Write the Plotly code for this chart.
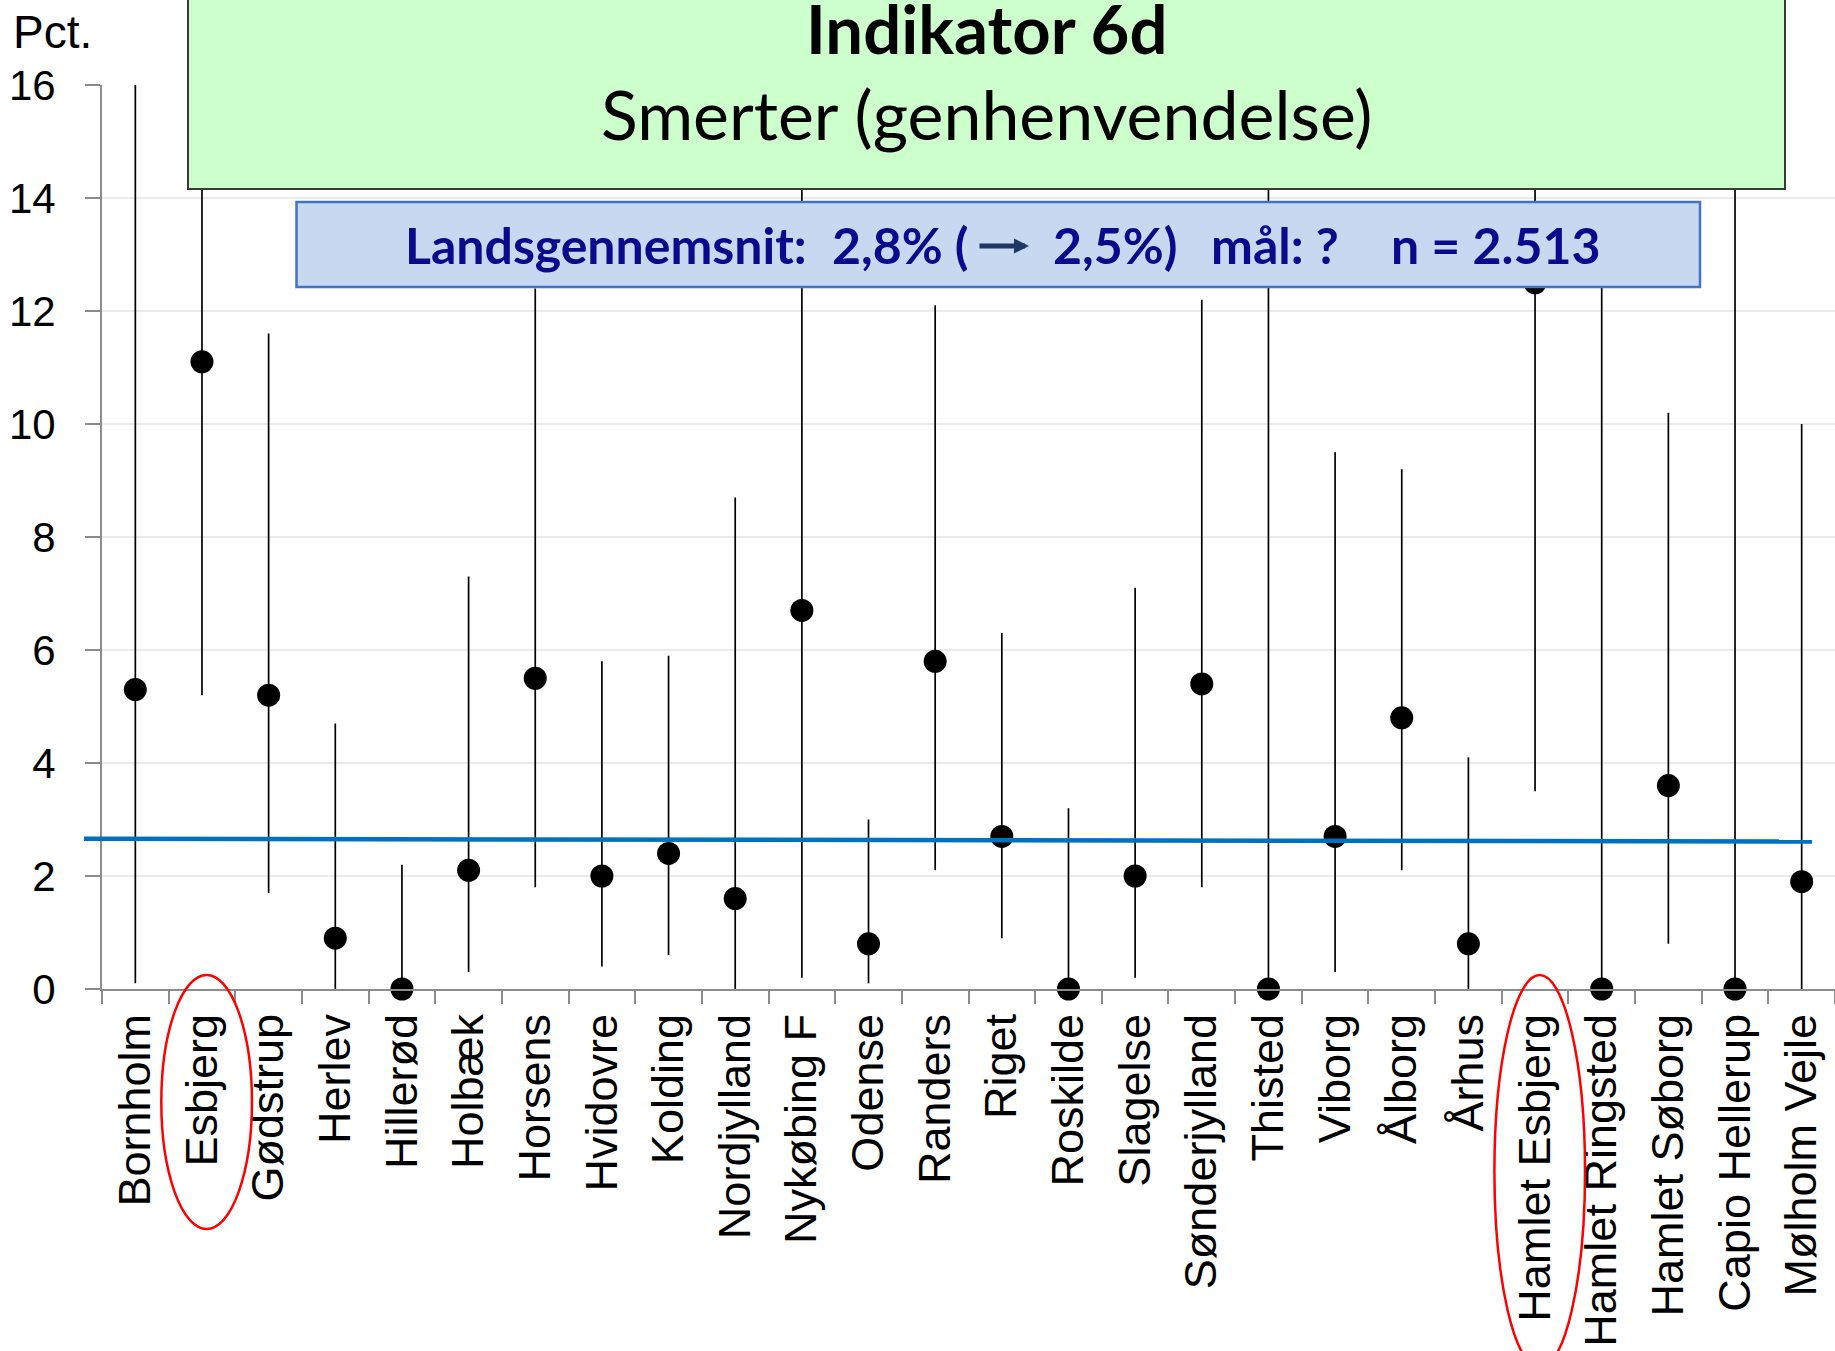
import plotly.graph_objects as go

# ---------------- data ----------------
categories = ["Bornholm", "Esbjerg", "Gødstrup", "Herlev", "Hillerød", "Holbæk",
              "Horsens", "Hvidovre", "Kolding", "Nordjylland", "Nykøbing F", "Odense",
              "Randers", "Riget", "Roskilde", "Slagelse", "Sønderjylland", "Thisted",
              "Viborg", "Ålborg", "Århus", "Hamlet Esbjerg", "Hamlet Ringsted",
              "Hamlet Søborg", "Capio Hellerup", "Mølholm Vejle"]
values = [5.3, 11.1, 5.2, 0.9, 0.0, 2.1, 5.5, 2.0, 2.4, 1.6, 6.7, 0.8, 5.8, 2.7,
          0.0, 2.0, 5.4, 0.0, 2.7, 4.8, 0.8, 12.5, 0.0, 3.6, 0.0, 1.9]
ci_lower = [0.1, 5.2, 1.7, 0.0, 0.0, 0.3, 1.8, 0.4, 0.6, 0.0, 0.2, 0.1, 2.1, 0.9,
            0.0, 0.2, 1.8, 0.0, 0.3, 2.1, 0.0, 3.5, 0.0, 0.8, 0.0, 0.0]
ci_upper = [16.0, 19.0, 11.6, 4.7, 2.2, 7.3, 12.4, 5.8, 5.9, 8.7, 19.0, 3.0, 12.1, 6.3,
            3.2, 7.1, 12.2, 19.0, 9.5, 9.2, 4.1, 19.0, 13.2, 10.2, 19.0, 10.0]
y_ticks = [0, 2, 4, 6, 8, 10, 12, 14, 16]
national_line = [2.66, 2.61]          # blue reference line (left, right)
highlighted = ["Esbjerg", "Hamlet Esbjerg"]

title_main = "Indikator 6d"
title_sub = "Smerter (genhenvendelse)"
info_parts = ["Landsgennemsnit:", "2,8% (", "2,5%)", "mål: ?", "n = 2.513"]

# ---------------- layout helpers ----------------
O = 0   # body margin is reset to 0 by the post script
PAGE_W, PAGE_H = 1835, 1351
W, H = PAGE_W - O, PAGE_H - O
PLOT_LEFT, PLOT_TOP, PLOT_BOTTOM = 102, 85, 989     # page pixels
L, R, T = PLOT_LEFT - O, 0, PLOT_TOP - O
B = H - (PLOT_BOTTOM - O)
PW, PH = W - L - R, H - T - B


def fx(px):
    return (px - O - L) / PW


def fy(py):
    return (PLOT_BOTTOM - py) / PH


fig = go.Figure()
fig.add_trace(go.Scatter(
    x=categories, y=values, mode="markers",
    marker=dict(color="black", size=23),
    error_y=dict(type="data", symmetric=False,
                 array=[u - v for u, v in zip(ci_upper, values)],
                 arrayminus=[v - l for v, l in zip(values, ci_lower)],
                 color="black", thickness=1.7, width=0),
    cliponaxis=False, showlegend=False, hoverinfo="x+y"))

axis_grey = "#8c8c8c"
shapes = [
    # national average line
    dict(type="line", xref="paper", yref="y", x0=fx(84), x1=fx(1812),
         y0=national_line[0], y1=national_line[1],
         line=dict(color="#0070C0", width=4.5), layer="above"),
    # title box
    dict(type="rect", xref="paper", yref="paper", x0=fx(188), x1=fx(1785),
         y0=fy(189), y1=fy(-20), fillcolor="#CCFFCC",
         line=dict(color="#3a3a3a", width=2), layer="above"),
    # info box
    dict(type="rect", xref="paper", yref="paper", x0=fx(296.5), x1=fx(1700),
         y0=fy(287), y1=fy(202), fillcolor="#C6D9F1",
         line=dict(color="#4472C4", width=2.5), layer="above"),
]
ell_bottoms = {"Esbjerg": 1229, "Hamlet Esbjerg": 1368}
for name in highlighted:
    i = categories.index(name)
    shapes.append(dict(type="circle", xref="x", yref="paper",
                       x0=i - 0.61, x1=i + 0.75, y0=fy(ell_bottoms[name]), y1=fy(975),
                       line=dict(color="#FF0000", width=2.5), layer="above"))

info_color = "#0A0A8C"
info_y = fy(245.5)
info_x = [405, 832, 1053, 1211, 1391]
annotations = [
    dict(text="Pct.", xref="paper", yref="paper", x=fx(11), y=fy(31.5),
         xanchor="left", yanchor="middle", showarrow=False,
         font=dict(family="Liberation Sans, Arial", size=46, color="black")),
    dict(text="<b>" + title_main + "</b>", xref="paper", yref="paper",
         x=fx(986.5), y=fy(28), xanchor="center", yanchor="middle", showarrow=False,
         font=dict(family="Lato", size=67, color="black")),
    dict(text=title_sub, xref="paper", yref="paper",
         x=fx(986.5), y=fy(114), xanchor="center", yanchor="middle", showarrow=False,
         font=dict(family="Lato", size=68, color="black")),
    dict(text="", xref="paper", yref="paper", x=fx(1029), y=fy(246),
         ax=-51, ay=0, showarrow=True, arrowhead=2, arrowsize=0.6,
         arrowwidth=5, arrowcolor="#1F3864"),
]
for txt, px in zip(info_parts, info_x):
    annotations.append(dict(text="<b>" + txt + "</b>", xref="paper", yref="paper",
                            x=fx(px - 2), y=info_y, xanchor="left", yanchor="middle",
                            showarrow=False,
                            font=dict(family="Lato", size=50, color=info_color)))

fig.update_layout(
    width=W, height=H,
    margin=dict(l=L, r=R, t=T, b=B, pad=0),
    paper_bgcolor="white", plot_bgcolor="white",
    font=dict(family="Liberation Sans, Arial", color="black"),
    xaxis=dict(type="category", range=[-0.5, len(categories) - 0.5],
               tickson="boundaries", ticks="outside", ticklen=13, tickwidth=2,
               tickcolor=axis_grey, showline=True, linecolor=axis_grey, linewidth=2,
               showgrid=False, tickangle=-90, ticklabelstandoff=5,
               tickfont=dict(family="Liberation Sans, Arial", size=45, color="black")),
    yaxis=dict(range=[0, 16], tickvals=y_ticks, ticks="outside", ticklen=15,
               tickwidth=2, tickcolor=axis_grey, showline=True, linecolor=axis_grey,
               linewidth=2, showgrid=True, gridcolor="#ebebeb", gridwidth=1.5,
               zeroline=False, ticklabelstandoff=21,
               tickfont=dict(family="Liberation Sans, Arial", size=42, color="black")),
    shapes=shapes, annotations=annotations, showlegend=False,
)

fig.write_html(
    "out.html",
    config={"displayModeBar": False},
    post_script="document.body.style.margin='0px';document.body.style.overflow='hidden';",
)
